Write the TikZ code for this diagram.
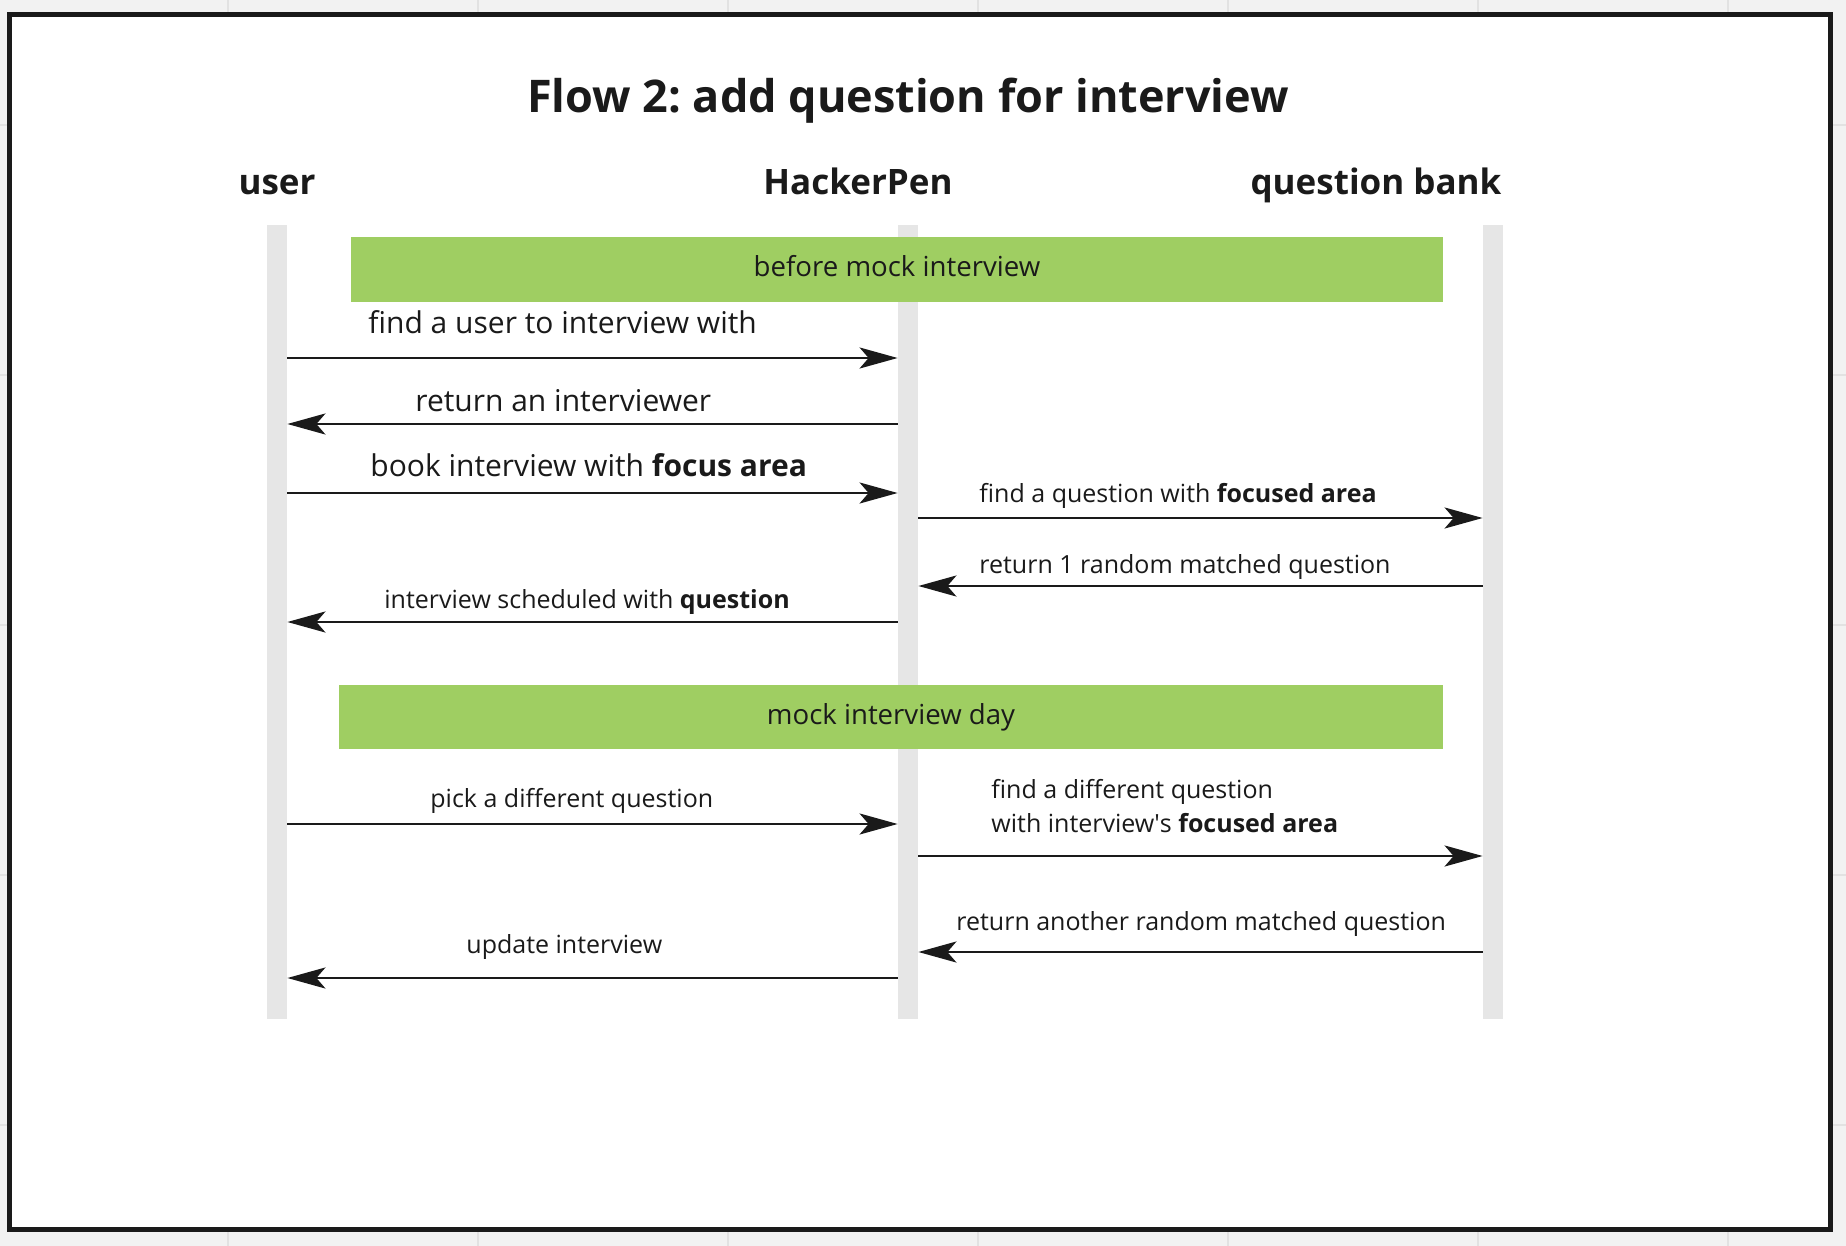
\documentclass[tikz,border=0pt]{standalone}
\usepackage{fontspec}
\setmainfont{Open Sans}
\usepackage{xcolor}
\usetikzlibrary{arrows.meta, positioning}

\definecolor{canvasgray}{HTML}{F2F2F2}
\definecolor{gridgray}{HTML}{E2E2E2}
\definecolor{lanegray}{HTML}{E6E6E6}
\definecolor{phasegreen}{HTML}{9FCE62}
\definecolor{inkblack}{HTML}{1A1A1A}
\newcommand{\straightquote}{{\addfontfeatures{Ligatures=TeXOff}'}}

\begin{document}
\frenchspacing
\begin{tikzpicture}[x=0.5pt, y=-0.5pt,
    lifeline/.style={rectangle, fill=lanegray, inner sep=0pt, minimum width=10pt, minimum height=397pt},
    phase/.style={rectangle, fill=phasegreen, inner sep=0pt, minimum height=32pt, text=inkblack, font=\fontsize{13.8}{17}\selectfont, text height=10pt, text depth=2.5pt},
    actor/.style={font=\bfseries\fontsize{17.5}{21}\selectfont, text=inkblack, inner sep=0pt, anchor=base},
    biglabel/.style={font=\fontsize{15}{19}\selectfont, text=inkblack, inner sep=0pt, anchor=base west},
    smalllabel/.style={font=\fontsize{12.5}{17}\selectfont, text=inkblack, inner sep=0pt, anchor=base west, align=left},
    arrow/.style={-{Stealth[length=19pt, width=10.5pt, inset=4.5pt]}, line width=1.3pt, inkblack},
]
\useasboundingbox (0,0) rectangle (1846,1246);
\fill[canvasgray] (0,0) rectangle (1846,1246);
\foreach \gx in {228,478,...,1728} \draw[gridgray, line width=0.75pt] (\gx,0) -- (\gx,1246);
\foreach \gy in {125,375,...,1125} \draw[gridgray, line width=0.75pt] (0,\gy) -- (1846,\gy);
\draw[fill=white, draw=inkblack, line width=2.5pt] (9.5,14.5) rectangle (1830.5,1229.5);

\node[font=\bfseries\fontsize{22.5}{27}\selectfont, text=inkblack, inner sep=0pt, anchor=base] (title) at (908,113) {Flow 2: add question for interview};

\node[actor] (huser) at (277,195) {user};
\node[actor] (hhp) at (858,195) {HackerPen};
\node[actor] (hqb) at (1376,195) {question bank};

\node[lifeline] (user) at (277,622) {};
\node[lifeline] (hp) at (908,622) {};
\node[lifeline] (qb) at (1493,622) {};

\node[phase, minimum width=546pt] (before) at (897,269.5) {before mock interview};
\node[phase, minimum width=552pt] (day) at (891,717) {mock interview day};

\draw[arrow] (user.east |- 0,358) -- (hp.west |- 0,358);
\draw[arrow] (hp.west |- 0,424) -- (user.east |- 0,424);
\draw[arrow] (user.east |- 0,493) -- (hp.west |- 0,493);
\draw[arrow] (hp.east |- 0,518) -- (qb.west |- 0,518);
\draw[arrow] (qb.west |- 0,586) -- (hp.east |- 0,586);
\draw[arrow] (hp.west |- 0,622) -- (user.east |- 0,622);
\draw[arrow] (user.east |- 0,824) -- (hp.west |- 0,824);
\draw[arrow] (hp.east |- 0,856) -- (qb.west |- 0,856);
\draw[arrow] (qb.west |- 0,952) -- (hp.east |- 0,952);
\draw[arrow] (hp.west |- 0,978) -- (user.east |- 0,978);

\node[biglabel] (m1) at (368,333) {find a user to interview with};
\node[biglabel] (m2) at (415,411) {return an interviewer};
\node[biglabel] (m3) at (370,476) {book interview with \textbf{focus area}};
\node[smalllabel] (m4) at (979,502) {find a question with \textbf{focused area}};
\node[smalllabel] (m5) at (979,573) {return 1 random matched question};
\node[smalllabel] (m6) at (384,608) {interview scheduled with \textbf{question}};
\node[smalllabel] (m7) at (430,807) {pick a different question};
\node[smalllabel] (m8) at (991,832) {find a different question\\with interview\straightquote s \textbf{focused area}};
\node[smalllabel] (m9) at (956,930) {return another random matched question};
\node[smalllabel] (m10) at (466,953) {update interview};
\end{tikzpicture}
\end{document}
